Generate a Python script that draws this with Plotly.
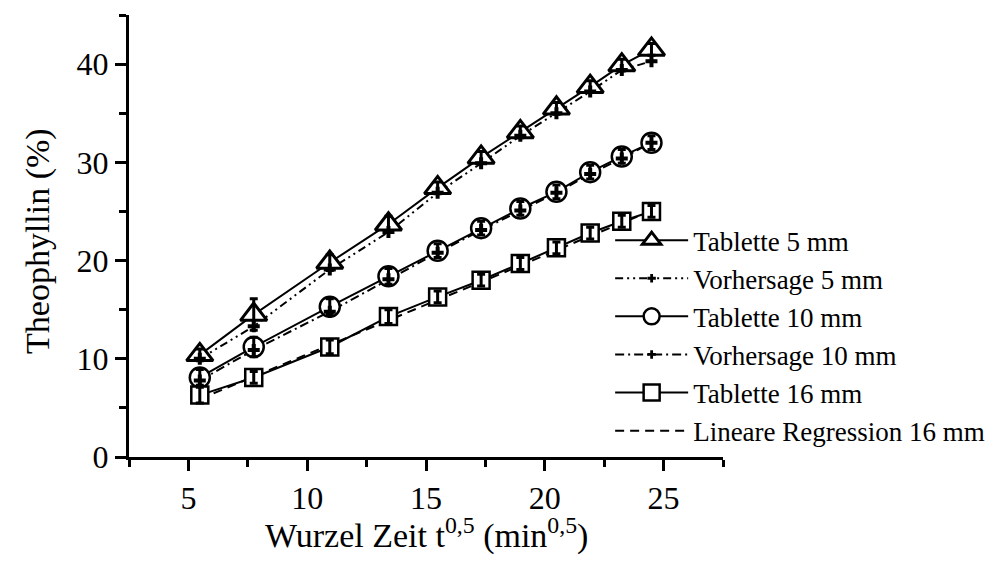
import plotly.graph_objects as go

# sqrt(time) values (min^0.5)
x = [5.48, 7.75, 10.95, 13.42, 15.49, 17.32, 18.97, 20.49, 21.91, 23.24, 24.49]

tab5 = [10.4, 14.5, 19.8, 23.7, 27.4, 30.5, 33.1, 35.5, 37.7, 39.9, 41.5]
vor5 = [10.0, 13.3, 19.1, 22.9, 26.9, 29.9, 32.7, 35.0, 37.2, 39.4, 40.3]
tab10 = [8.1, 11.2, 15.3, 18.4, 21.0, 23.3, 25.3, 27.0, 29.0, 30.6, 32.0]
vor10 = [7.8, 10.9, 14.8, 18.1, 20.8, 23.1, 25.1, 26.9, 28.8, 30.4, 32.0]
tab16 = [6.3, 8.1, 11.2, 14.3, 16.3, 18.0, 19.7, 21.3, 22.8, 24.0, 25.0]
reg16 = [5.9, 8.2, 11.4, 13.9, 16.0, 17.8, 19.5, 21.0, 22.5, 23.8, 25.1]

err5 = [0.6, 1.6, 0.8, 0.8, 0.6, 0.6, 0.6, 0.6, 0.6, 0.6, 0.6]
err10 = [0.8, 1.0, 0.8, 0.8, 0.7, 0.7, 0.7, 0.7, 0.7, 0.7, 0.7]
err16 = [0.8, 0.6, 0.7, 0.7, 0.6, 0.6, 0.6, 0.6, 0.6, 0.6, 0.6]

x_title = "Wurzel Zeit t<sup>0,5</sup> (min<sup>0,5</sup>)"
y_title = "Theophyllin (%)"

FONT = "Liberation Serif"
BLACK = "black"

fig = go.Figure()

# prediction / regression lines (drawn first, underneath)
fig.add_trace(go.Scatter(x=x, y=vor5, name="Vorhersage 5 mm", mode="lines+markers",
                         line=dict(color=BLACK, width=2, dash="8px,4px,2px,4px,2px,4px"),
                         marker=dict(symbol="cross", size=7, color=BLACK), legendrank=2))
fig.add_trace(go.Scatter(x=x, y=vor10, name="Vorhersage 10 mm", mode="lines+markers",
                         line=dict(color=BLACK, width=2, dash="9px,4px,2px,4px"),
                         marker=dict(symbol="cross", size=7, color=BLACK), legendrank=4))
fig.add_trace(go.Scatter(x=x, y=reg16, name="Lineare Regression 16 mm", mode="lines",
                         line=dict(color=BLACK, width=2, dash="9px,6px"), legendrank=6))

# measured tablets
fig.add_trace(go.Scatter(x=x, y=tab5, name="Tablette 5 mm", mode="lines+markers",
                         line=dict(color=BLACK, width=2),
                         marker=dict(symbol="triangle-up", size=23, color="white",
                                     line=dict(color=BLACK, width=3)), legendrank=1))
fig.add_trace(go.Scatter(x=x, y=tab10, name="Tablette 10 mm", mode="lines+markers",
                         line=dict(color=BLACK, width=2),
                         marker=dict(symbol="circle", size=20, color="white",
                                     line=dict(color=BLACK, width=2.5)), legendrank=3))
fig.add_trace(go.Scatter(x=x, y=tab16, name="Tablette 16 mm", mode="lines+markers",
                         line=dict(color=BLACK, width=2),
                         marker=dict(symbol="square", size=17, color="white",
                                     line=dict(color=BLACK, width=2.5)), legendrank=5))

# overlays: error bars and prediction crosses on top of the open symbols
for yy, ee in [(tab5, err5), (tab10, err10), (tab16, err16)]:
    fig.add_trace(go.Scatter(x=x, y=yy, mode="markers", showlegend=False, hoverinfo="skip",
                             marker=dict(size=1, color="rgba(0,0,0,0)"),
                             error_y=dict(type="data", array=ee, visible=True,
                                          color=BLACK, thickness=3, width=4)))
for yy in [vor5, vor10]:
    fig.add_trace(go.Scatter(x=x, y=yy, mode="markers", showlegend=False, hoverinfo="skip",
                             marker=dict(symbol="cross", size=10, color=BLACK)))

axis_common = dict(
    showline=True, linecolor=BLACK, linewidth=3, mirror=False,
    ticks="outside", ticklen=11, tickwidth=3, tickcolor=BLACK,
    showgrid=False, zeroline=False,
    tickfont=dict(family=FONT, size=32, color=BLACK),
)

fig.update_xaxes(range=[2.5, 27.5], tick0=5, dtick=5,
                 minor=dict(ticks="outside", dtick=2.5, tick0=2.5, ticklen=7, tickwidth=3, tickcolor=BLACK),
                 **axis_common)
fig.update_yaxes(range=[0, 45], tick0=0, dtick=10,
                 minor=dict(ticks="outside", dtick=5, tick0=0, ticklen=7, tickwidth=3, tickcolor=BLACK),
                 **axis_common)

fig.add_annotation(text=x_title, xref="paper", yref="paper", x=0.5, y=-0.173,
                   xanchor="center", yanchor="middle", showarrow=False,
                   font=dict(family=FONT, size=34, color=BLACK))
fig.add_annotation(text=y_title, xref="paper", yref="paper", x=-0.153, y=0.489,
                   xanchor="center", yanchor="middle", showarrow=False, textangle=-90,
                   font=dict(family=FONT, size=34, color=BLACK))

fig.update_layout(
    width=994, height=566,
    margin=dict(l=129, r=271, t=15, b=109, autoexpand=False),
    plot_bgcolor="white", paper_bgcolor="white",
    font=dict(family=FONT, color=BLACK),
    legend=dict(x=0.81, y=0.545, xanchor="left", yanchor="top",
                bgcolor="rgba(0,0,0,0)", borderwidth=0,
                font=dict(family=FONT, size=27, color=BLACK),
                itemwidth=73, tracegroupgap=0, traceorder="normal"),
    showlegend=True,
)

fig.write_html("out.html")
